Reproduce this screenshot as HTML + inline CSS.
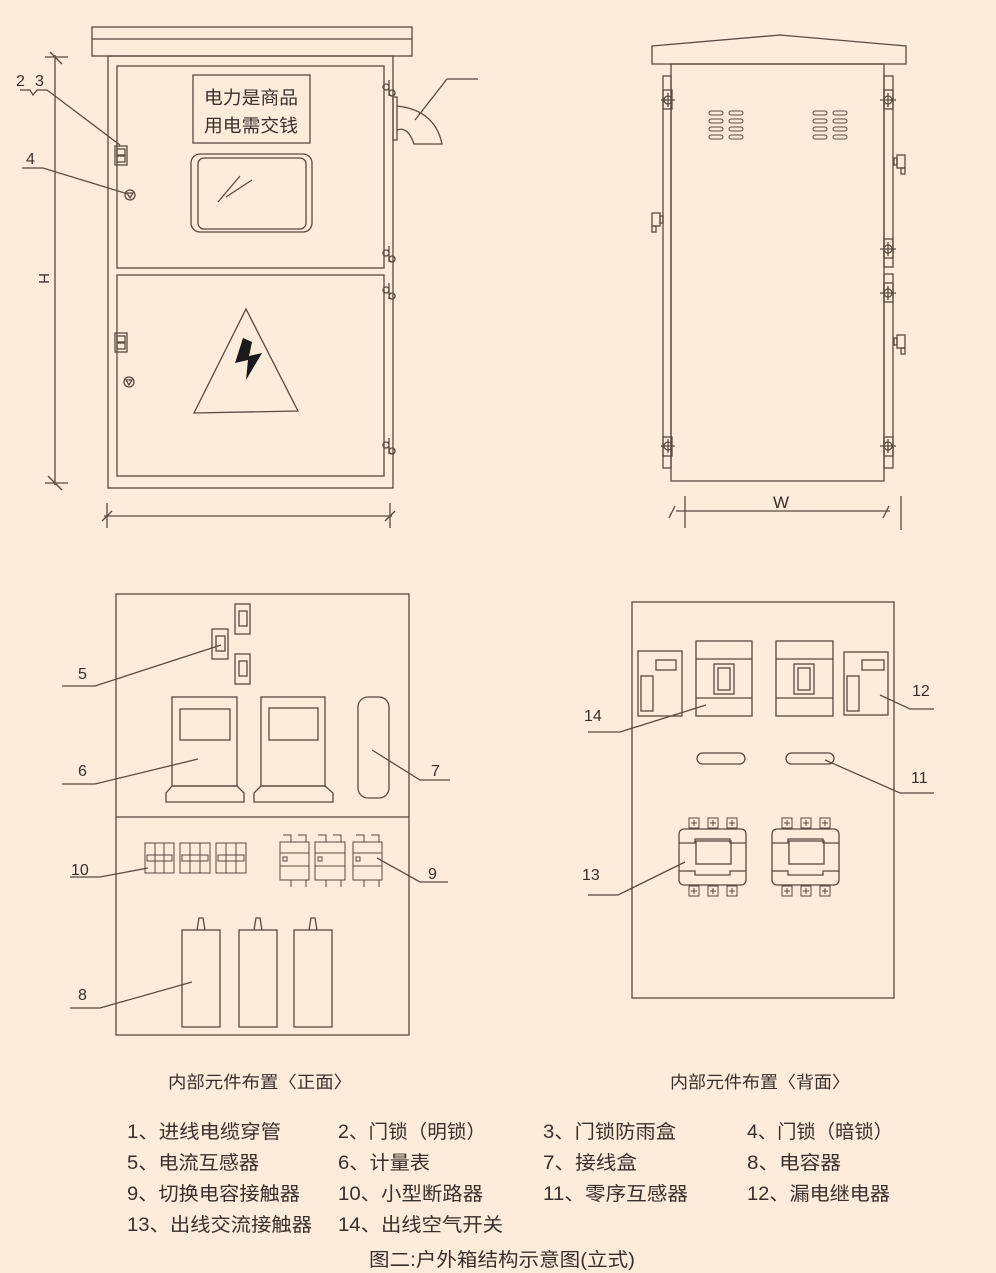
<!DOCTYPE html>
<html><head><meta charset="utf-8"><style>
html,body{margin:0;padding:0;background:#fdebdb;}
svg{display:block;}
text{font-family:"Liberation Sans","Noto Sans CJK SC",sans-serif;fill:#3a302a;}
</style></head><body>
<svg width="996" height="1273" viewBox="0 0 996 1273" xmlns="http://www.w3.org/2000/svg">
<rect width="996" height="1273" fill="#fdebdb"/>
<g fill="none" stroke="#5a4a40" stroke-width="1.3">
<!-- FRONT VIEW -->
<rect x="92" y="27" width="320" height="29"/>
<line x1="92" y1="39" x2="412" y2="39"/>
<rect x="108" y="56" width="285" height="432"/>
<rect x="117" y="66" width="267" height="202"/>
<rect x="117" y="275" width="267" height="201"/>
<rect x="193" y="75" width="117" height="68"/>
<rect x="191" y="154" width="121" height="78" rx="9"/>
<rect x="198" y="158" width="108" height="71" rx="6"/>
<line x1="218" y1="202" x2="240" y2="176"/>
<line x1="226" y1="197" x2="252" y2="180"/>
<rect x="115" y="146" width="12" height="19"/><rect x="117" y="149" width="8" height="6"/><rect x="117" y="156" width="8" height="6"/>
<rect x="115" y="333" width="12" height="19"/><rect x="117" y="336" width="8" height="6"/><rect x="117" y="343" width="8" height="6"/>
<circle cx="130" cy="195" r="5"/><circle cx="129" cy="382" r="5"/>
<path d="M127 193 L133 193 L130 198 Z"/><path d="M126 380 L132 380 L129 385 Z"/>
<g>
<path d="M389 80 v16 M386 84 a3 3 0 1 0 0.1 0 M392 90 a3 3 0 1 0 0.1 0"/>
<path d="M389 246 v16 M386 250 a3 3 0 1 0 0.1 0 M392 256 a3 3 0 1 0 0.1 0"/>
<path d="M389 283 v16 M386 287 a3 3 0 1 0 0.1 0 M392 293 a3 3 0 1 0 0.1 0"/>
<path d="M389 438 v16 M386 442 a3 3 0 1 0 0.1 0 M392 448 a3 3 0 1 0 0.1 0"/>
</g>
<rect x="393" y="97" width="4" height="43"/>
<path d="M397 106 Q435 110 442 144 L414 144 Q408 126 397 130"/>
<line x1="478" y1="79" x2="447" y2="79"/><line x1="447" y1="79" x2="415" y2="120"/>
<line x1="55" y1="55" x2="55" y2="485"/>
<line x1="45" y1="57" x2="68" y2="57"/><line x1="45" y1="483" x2="68" y2="483"/>
<line x1="50" y1="52" x2="62" y2="64"/><line x1="48" y1="476" x2="62" y2="490"/>
<path d="M20 90 L30 90 L33 95 L37 90 L47 90 L120 145"/>
<path d="M22 168 L43 168 L128 194"/>
<line x1="104" y1="516" x2="392" y2="516"/>
<line x1="107" y1="503" x2="107" y2="528"/><line x1="390" y1="503" x2="390" y2="528"/>
<line x1="102" y1="521" x2="112" y2="511"/><line x1="385" y1="521" x2="395" y2="511"/>
<!-- SIDE VIEW -->
<path d="M652 46 L780 35 L906 46 L906 64 L652 64 Z"/>
<rect x="671" y="64" width="213" height="417"/>
<rect x="663" y="76" width="8" height="392"/>
<rect x="884" y="76" width="9" height="191"/>
<rect x="884" y="274" width="9" height="194"/>
<g>
<circle cx="668" cy="100" r="4"/><rect x="663" y="90" width="9" height="19"/><path d="M661 100 h14 M668 93 v14"/>
<circle cx="668" cy="446" r="4"/><rect x="663" y="437" width="9" height="19"/><path d="M661 446 h14 M668 439 v14"/>
<circle cx="888" cy="100" r="4"/><rect x="884" y="90" width="9" height="19"/><path d="M880 100 h16 M888 93 v14"/>
<circle cx="888" cy="249" r="4"/><rect x="884" y="239" width="9" height="19"/><path d="M880 249 h16 M888 242 v14"/>
<circle cx="888" cy="293" r="4"/><rect x="884" y="283" width="9" height="19"/><path d="M880 293 h16 M888 286 v14"/>
<circle cx="888" cy="446" r="4"/><rect x="884" y="437" width="9" height="19"/><path d="M880 446 h16 M888 439 v14"/>
</g>
<rect x="652" y="213" width="8" height="13"/><rect x="660" y="216" width="3" height="7"/><rect x="652" y="226" width="4" height="6"/>
<rect x="897" y="155" width="8" height="13"/><rect x="894" y="158" width="3" height="7"/><rect x="901" y="168" width="4" height="6"/>
<rect x="897" y="335" width="8" height="13"/><rect x="894" y="338" width="3" height="7"/><rect x="901" y="348" width="4" height="6"/>
<g stroke-width="1">
<rect x="709" y="111" width="14" height="4" rx="2"/><rect x="729" y="111" width="14" height="4" rx="2"/>
<rect x="709" y="119" width="14" height="4" rx="2"/><rect x="729" y="119" width="14" height="4" rx="2"/>
<rect x="709" y="127" width="14" height="4" rx="2"/><rect x="729" y="127" width="14" height="4" rx="2"/>
<rect x="709" y="135" width="14" height="4" rx="2"/><rect x="729" y="135" width="14" height="4" rx="2"/>
<rect x="813" y="111" width="14" height="4" rx="2"/><rect x="833" y="111" width="14" height="4" rx="2"/>
<rect x="813" y="119" width="14" height="4" rx="2"/><rect x="833" y="119" width="14" height="4" rx="2"/>
<rect x="813" y="127" width="14" height="4" rx="2"/><rect x="833" y="127" width="14" height="4" rx="2"/>
<rect x="813" y="135" width="14" height="4" rx="2"/><rect x="833" y="135" width="14" height="4" rx="2"/>
</g>
<line x1="676" y1="511" x2="890" y2="511"/>
<line x1="685" y1="496" x2="685" y2="528"/><line x1="901" y1="496" x2="901" y2="530"/>
<line x1="669" y1="518" x2="675" y2="506"/><line x1="883" y1="518" x2="889" y2="506"/>
<!-- INNER FRONT -->
<rect x="116" y="594" width="293" height="441"/>
<line x1="116" y1="817" x2="409" y2="817"/>
<rect x="235" y="604" width="15" height="30"/><rect x="239" y="611" width="8" height="15"/>
<rect x="212" y="629" width="16" height="30"/><rect x="216" y="636" width="9" height="15"/>
<rect x="235" y="654" width="15" height="30"/><rect x="239" y="661" width="8" height="15"/>
<rect x="172" y="697" width="65" height="89"/><rect x="180" y="709" width="50" height="31"/>
<path d="M172 786 L237 786 L244 793 L244 802 L166 802 L166 793 Z"/>
<rect x="261" y="697" width="64" height="89"/><rect x="269" y="708" width="49" height="32"/>
<path d="M261 786 L325 786 L333 793 L333 802 L254 802 L254 793 Z"/>
<rect x="358" y="697" width="31" height="101" rx="10"/>
<g stroke-width="1">
<rect x="145" y="843" width="29" height="30"/><path d="M155 843v30M164 843v30M147 855h25v6h-25z"/>
<rect x="180" y="843" width="30" height="30"/><path d="M190 843v30M200 843v30M182 855h26v6h-26z"/>
<rect x="216" y="843" width="30" height="30"/><path d="M226 843v30M236 843v30M218 855h26v6h-26z"/>
<rect x="280" y="842" width="29" height="38"/><path d="M280 853h29M280 866h29M283 835h8v7M298 835h8v7M283 880h8v7M298 880h8v7"/><rect x="283" y="857" width="4" height="4"/>
<rect x="315" y="842" width="30" height="38"/><path d="M315 853h30M315 866h30M318 835h8v7M333 835h8v7M318 880h8v7M333 880h8v7"/><rect x="318" y="857" width="4" height="4"/>
<rect x="353" y="842" width="29" height="38"/><path d="M353 853h29M353 866h29M356 835h8v7M371 835h8v7M356 880h8v7M371 880h8v7"/><rect x="356" y="857" width="4" height="4"/>
</g>
<rect x="182" y="930" width="38" height="97"/><path d="M197 930 L199 918 L203 918 L205 930"/>
<rect x="239" y="930" width="38" height="97"/><path d="M254 930 L256 918 L260 918 L262 930"/>
<rect x="294" y="930" width="38" height="97"/><path d="M309 930 L311 918 L315 918 L317 930"/>
<path d="M62 686 L95 686 L221 645"/>
<path d="M62 784 L95 784 L198 759"/>
<path d="M372 750 L420 780 L450 780"/>
<path d="M70 877 L100 877 L148 868"/>
<path d="M377 858 L420 882 L448 882"/>
<path d="M70 1008 L100 1008 L192 982"/>
<!-- INNER BACK -->
<rect x="632" y="602" width="262" height="396"/>
<rect x="638" y="651" width="44" height="65"/><rect x="656" y="660" width="20" height="10"/><rect x="641" y="676" width="12" height="35"/>
<rect x="696" y="641" width="56" height="75"/><path d="M696 659h56M696 698h56"/><rect x="714" y="664" width="20" height="30"/><rect x="718" y="668" width="12" height="22"/>
<rect x="776" y="641" width="57" height="75"/><path d="M776 659h57M776 698h57"/><rect x="794" y="664" width="20" height="30"/><rect x="798" y="668" width="12" height="22"/>
<rect x="844" y="652" width="44" height="63"/><rect x="862" y="660" width="22" height="10"/><rect x="847" y="676" width="12" height="35"/>
<rect x="697" y="753" width="48" height="11" rx="5.5"/>
<rect x="786" y="753" width="48" height="11" rx="5.5"/>
<rect x="679" y="829" width="67" height="56" rx="5"/>
<path d="M679 843h16v-4h35v4h16M679 871h16v4h35v-4h16"/><rect x="696" y="841" width="35" height="23"/>
<rect x="772" y="829" width="67" height="56" rx="5"/>
<path d="M772 843h16v-4h35v4h16M772 871h16v4h35v-4h16"/><rect x="789" y="841" width="35" height="23"/>
<g stroke-width="1">
<rect x="689" y="818" width="10" height="10"/><rect x="708" y="818" width="10" height="10"/><rect x="727" y="818" width="10" height="10"/>
<rect x="689" y="886" width="10" height="10"/><rect x="708" y="886" width="10" height="10"/><rect x="727" y="886" width="10" height="10"/>
<rect x="782" y="818" width="10" height="10"/><rect x="801" y="818" width="10" height="10"/><rect x="820" y="818" width="10" height="10"/>
<rect x="782" y="886" width="10" height="10"/><rect x="801" y="886" width="10" height="10"/><rect x="820" y="886" width="10" height="10"/>
<path d="M694 820v6M691 823h6M713 820v6M710 823h6M732 820v6M729 823h6M694 888v6M691 891h6M713 888v6M710 891h6M732 888v6M729 891h6"/>
<path d="M787 820v6M784 823h6M806 820v6M803 823h6M825 820v6M822 823h6M787 888v6M784 891h6M806 888v6M803 891h6M825 888v6M822 891h6"/>
</g>
<path d="M588 732 L620 732 L706 705"/>
<path d="M880 695 L910 709 L934 709"/>
<path d="M825 760 L900 793 L934 793"/>
<path d="M588 895 L618 895 L685 862"/>
</g>
<path d="M194 413 L246 309 L298 411 Z" fill="none" stroke="#5a4a40" stroke-width="1.3"/>
<path d="M243 338 L235 363 L248 360 L246 380 L262 353 L249 356 L252 342 Z" fill="#1a1a1a"/>
<text x="251" y="104" font-size="18" text-anchor="middle" textLength="94" lengthAdjust="spacingAndGlyphs">电力是商品</text>
<text x="251" y="132" font-size="18" text-anchor="middle" textLength="94" lengthAdjust="spacingAndGlyphs">用电需交钱</text>
<text x="16" y="86" font-size="16">2</text><text x="35" y="86" font-size="16">3</text>
<text x="26" y="164" font-size="16">4</text>
<text x="0" y="0" font-size="15" transform="translate(39,273) rotate(90)">H</text>
<text x="773" y="508" font-size="17">W</text>
<text x="78" y="679" font-size="16">5</text>
<text x="78" y="776" font-size="16">6</text>
<text x="431" y="776" font-size="16">7</text>
<text x="71" y="875" font-size="16">10</text>
<text x="428" y="879" font-size="16">9</text>
<text x="78" y="1000" font-size="16">8</text>
<text x="584" y="721" font-size="16">14</text>
<text x="912" y="696" font-size="16">12</text>
<text x="911" y="783" font-size="16">11</text>
<text x="582" y="880" font-size="16">13</text>
<text x="168" y="1088" font-size="17" textLength="184" lengthAdjust="spacingAndGlyphs">内部元件布置〈正面〉</text>
<text x="670" y="1088" font-size="17" textLength="180" lengthAdjust="spacingAndGlyphs">内部元件布置〈背面〉</text>
<g font-size="19">
<text x="127" y="1138" textLength="154" lengthAdjust="spacingAndGlyphs">1、进线电缆穿管</text>
<text x="338" y="1138" textLength="148" lengthAdjust="spacingAndGlyphs">2、门锁（明锁）</text>
<text x="543" y="1138" textLength="133" lengthAdjust="spacingAndGlyphs">3、门锁防雨盒</text>
<text x="747" y="1138" textLength="146" lengthAdjust="spacingAndGlyphs">4、门锁（暗锁）</text>
<text x="127" y="1169" textLength="132" lengthAdjust="spacingAndGlyphs">5、电流互感器</text>
<text x="338" y="1169" textLength="92" lengthAdjust="spacingAndGlyphs">6、计量表</text>
<text x="543" y="1169" textLength="94" lengthAdjust="spacingAndGlyphs">7、接线盒</text>
<text x="747" y="1169" textLength="94" lengthAdjust="spacingAndGlyphs">8、电容器</text>
<text x="127" y="1200" textLength="173" lengthAdjust="spacingAndGlyphs">9、切换电容接触器</text>
<text x="338" y="1200" textLength="145" lengthAdjust="spacingAndGlyphs">10、小型断路器</text>
<text x="543" y="1200" textLength="145" lengthAdjust="spacingAndGlyphs">11、零序互感器</text>
<text x="747" y="1200" textLength="143" lengthAdjust="spacingAndGlyphs">12、漏电继电器</text>
<text x="127" y="1231" textLength="185" lengthAdjust="spacingAndGlyphs">13、出线交流接触器</text>
<text x="338" y="1231" textLength="165" lengthAdjust="spacingAndGlyphs">14、出线空气开关</text>
</g>
<text x="369" y="1266" font-size="19" textLength="266" lengthAdjust="spacingAndGlyphs">图二:户外箱结构示意图(立式)</text>
</svg>
</body></html>
